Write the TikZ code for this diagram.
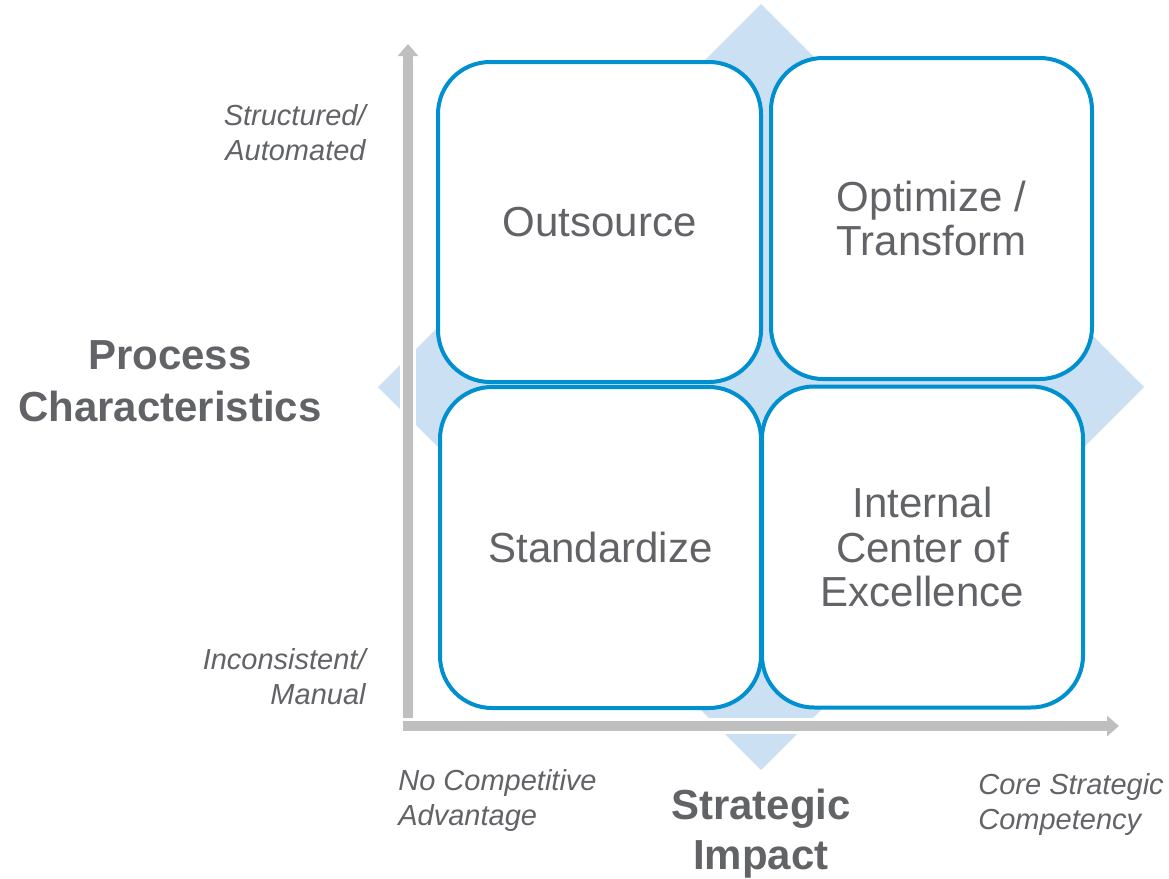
\documentclass[tikz,border=0pt]{standalone}
\usepackage{fontspec}
\setmainfont{Liberation Sans}
\usetikzlibrary{arrows.meta}
\definecolor{quadblue}{RGB}{0,144,208}
\definecolor{diamondblue}{RGB}{204,224,244}
\definecolor{axisgray}{RGB}{191,191,191}
\definecolor{textgray}{RGB}{97,99,103}
\tikzset{
	quad/.style={draw=quadblue, line width=2pt, fill=white, rounded corners=26pt, minimum width=160.5pt, minimum height=160.5pt, align=center, text=textgray, font=\fontsize{21}{22.25}\selectfont, inner sep=0pt},
	axisline/.style={axisgray, line width=5pt, -{Triangle[width=10pt,length=6pt]}},
	axisgap/.style={white, line width=8pt},
	axislabel/.style={text=textgray, font=\fontsize{14.5}{17.5}\selectfont\itshape, inner sep=0pt},
	axistitle/.style={text=textgray, font=\fontsize{21}{26}\selectfont\bfseries, align=center, inner sep=0pt}
}
\begin{document}
\begin{tikzpicture}[x=0.5pt, y=-0.5pt]
				\useasboundingbox (0,0) rectangle (1169,879);
				\coordinate (mid) at (761, 387);
				\fill[diamondblue] (761, 4) -- (1144, 387) -- (761, 770) -- (378, 387) -- cycle;
				\coordinate (yfoot) at (408, 720);
				\coordinate (ytip) at (408, 44);
				\coordinate (xfoot) at (403, 726);
				\coordinate (xtip) at (1119, 726);
				\draw[axisgap] (yfoot) -- ([yshift=6pt]ytip);
				\draw[axisline] (yfoot) -- (ytip);
				\draw[axisgap] (xfoot) -- ([xshift=-6pt]xtip);
				\draw[axisline] (xfoot) -- (xtip);
				\node[quad, minimum width=161.5pt, minimum height=160pt] (outsource)at(599.5, 222) {Outsource};
				\node[quad] (optimize)at(931.5, 218.5) {Optimize /\\Transform};
				\node[quad] (standardize)at(600.5, 547.5) {Standardize};
				\node[quad] (excellence)at(922.5, 547) {Internal\\Center of\\Excellence};
				\node[axistitle] (process)at(170, 381) {Process\\Characteristics};
				\node[axistitle, font=\fontsize{21}{25}\selectfont\bfseries] (strategic)at(761, 834) {Strategic\\Impact};
				\node[axislabel, align=right, anchor=east] (structured)at(366, 133) {Structured/\\Automated};
				\node[axislabel, align=right, anchor=east] (manual)at(366, 677) {Inconsistent/\\Manual};
				\node[axislabel, align=left, anchor=west] (nocomp)at(398, 800) {No Competitive\\Advantage};
				\node[axislabel, align=left, anchor=west] (core)at(978, 804) {Core Strategic\\Competency};
			\end{tikzpicture}
\end{document}
